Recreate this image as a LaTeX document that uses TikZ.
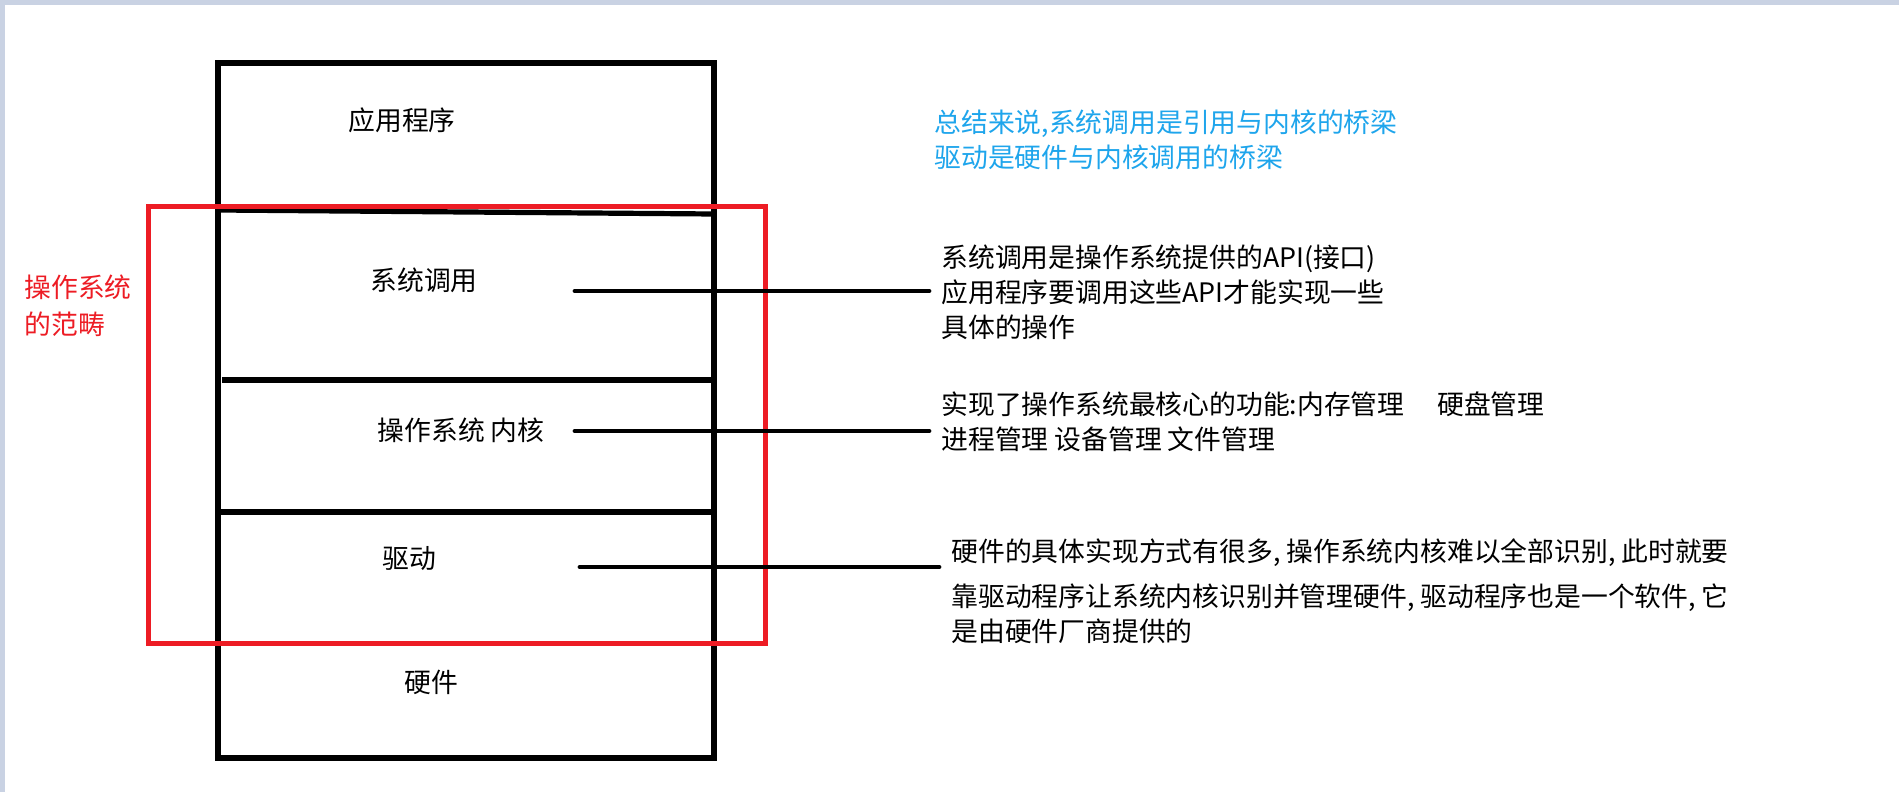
\documentclass[tikz,border=0pt]{standalone}
\usepackage{fontspec}
\setmainfont{Noto Sans CJK SC}
\usetikzlibrary{positioning,calc}
\definecolor{PaintRed}{HTML}{ED1C24}
\definecolor{PaintBlue}{HTML}{1EA5EC}
\definecolor{EdgeGray}{HTML}{C9D2E3}
\tikzset{
  layertext/.style={font=\fontsize{13.4}{17}\selectfont, inner sep=0pt},
  note/.style={font=\fontsize{13.4}{17.5}\selectfont, align=left, anchor=west, inner sep=6pt},
  bluenote/.style={note, text=PaintBlue},
  rednote/.style={note, text=PaintRed, font=\fontsize{13.4}{18.5}\selectfont},
  frame/.style={line width=2.6pt, draw=black},
  redframe/.style={line width=2.5pt, draw=PaintRed},
  link/.style={line width=2.4pt, line cap=round, draw=black}
}
\begin{document}
\begin{tikzpicture}[x=0.5pt,y=-0.5pt]
\useasboundingbox (0,0) rectangle (1899,792);
\fill[white] (0,0) rectangle (1899,792);
\fill[EdgeGray] (0,0) rectangle (1899,5);
\fill[EdgeGray] (0,0) rectangle (5,792);
% layer stack
\draw[frame] (218,63) rectangle (714,758);
\draw[frame] (218,210) -- (714,214);
\draw[frame] (222,380) -- (712,380);
\draw[frame] (218,512) -- (714,512);
\draw[redframe] (148,206) rectangle (765,643);
\node[layertext] (app) at (402,120) {应用程序};
\node[layertext] (syscall) at (424,280) {系统调用};
\node[layertext] (kernel) at (461,430) {操作系统 内核};
\node[layertext] (driver) at (409,559) {驱动};
\node[layertext] (hw) at (431,682) {硬件};
\node[rednote] (scope) at (12,306) {操作系统\\的范畴};
% notes on the right
\node[bluenote] (summary) at (922,140) {总结来说,系统调用是引用与内核的桥梁\\驱动是硬件与内核调用的桥梁};
\node[note] (sysnote) at (929,292) {系统调用是操作系统提供的API(接口)\\应用程序要调用这些API才能实现一些\\具体的操作};
\node[note] (kernelnote) at (929,422) {实现了操作系统最核心的功能:内存管理\quad\ 硬盘管理\\进程管理 设备管理 文件管理};
\node[note] (drivernote) at (939,591) {硬件的具体实现方式有很多, 操作系统内核难以全部识别, 此时就要\\[5pt]靠驱动程序让系统内核识别并管理硬件, 驱动程序也是一个软件, 它\\是由硬件厂商提供的};
\coordinate (c1) at (575,291);
\coordinate (c2) at (575,431);
\coordinate (c3) at (580,567);
\draw[link] (c1) -- (c1 -| sysnote.west);
\draw[link] (c2) -- (c2 -| kernelnote.west);
\draw[link] (c3) -- (c3 -| drivernote.west);
\end{tikzpicture}
\end{document}
